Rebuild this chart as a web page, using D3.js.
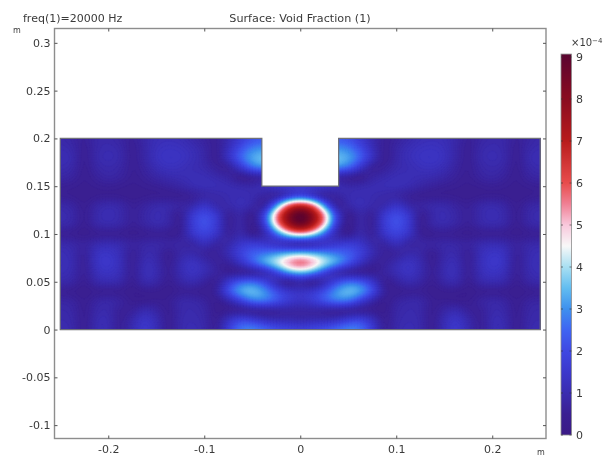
<!DOCTYPE html>
<html><head><meta charset="utf-8">
<script src="https://cdn.jsdelivr.net/npm/d3@7"></script>
<style>
html,body{margin:0;padding:0;background:#fff}
svg{display:block;filter:blur(.7px)}
text{font-family:"DejaVu Sans",sans-serif;fill:#3a3a3a}
</style></head><body>
<svg id="c" width="611" height="456"></svg>
<script>
const titleLeft = "freq(1)=20000 Hz";
const titleCenter = "Surface: Void Fraction (1)";
const xTicks = [-0.2,-0.1,0,0.1,0.2];
const yTicks = [-0.1,-0.05,0,0.05,0.1,0.15,0.2,0.25,0.3];
const barTicks = [0,1,2,3,4,5,6,7,8,9];
const colorValues = [0,0.5,1,1.5,2,2.5,3,3.5,4,4.5,5,5.5,6,7,8,9.07];
const colorStops = ["#3b1a86","#3a1f92","#3a2cb0","#3c38cc","#3f48e2","#3f64f2","#3e90ee","#62bdf0","#a8dff2","#f8f8f8","#f8c8dc","#f08094","#e84c4c","#b81c1c","#8a0c20","#5a0430"];
// domain outline (m)
const outlineX = [-0.25,0.25,0.25,0.04,0.04,-0.04,-0.04,-0.25];
const outlineY = [0,0,0.2,0.2,0.15,0.15,0.2,0.2];
// field: half width (x = 0 … 0.25, mirror symmetric), unit 1e-4
const colX = [0,.0125,.025,.0375,.05,.0625,.075,.0875,.1,.1125,.125,.1375,.15,.1625,.175,.1875,.2,.2125,.225,.2375,.25];
const rowY = [.20,.19,.18,.17,.16,.15,.14,.13,.12,.11,.10,.09,.08,.07,.06,.05,.04,.03,.02,.01,0];
const field = [
[2.3,2.3,2.3,2.3,2.1,1.6,1.0,0.6,0.7,0.9,1.1,1.15,1.1,0.9,0.6,0.8,0.9,0.9,0.6,0.8,0.9],
[3.0,3.0,3.0,3.0,2.8,2.1,1.2,0.55,0.85,1.1,1.25,1.3,1.2,0.85,0.55,0.9,1.0,0.9,0.55,0.9,1.0],
[3.7,3.7,3.7,3.6,3.3,2.5,1.4,0.5,0.9,1.15,1.35,1.4,1.25,0.85,0.55,0.95,1.05,0.95,0.5,1.0,1.1],
[3.2,3.2,3.2,3.1,2.7,1.6,0.6,0.65,0.95,1.05,1.2,1.25,1.1,0.75,0.55,0.85,0.95,0.85,0.5,0.9,1.0],
[1.0,1.0,1.0,0.7,0.55,0.4,0.8,0.95,1.1,1.1,1.05,1.0,0.85,0.65,0.55,0.75,0.85,0.7,0.5,0.75,0.85],
[1.7,1.7,1.6,1.2,0.95,1.0,1.05,1.1,1.15,1.05,0.85,0.7,0.6,0.55,0.5,0.55,0.6,0.55,0.5,0.55,0.6],
[1.7,1.2,0.55,0.75,1.0,1.05,1.0,0.9,0.8,0.6,0.5,0.5,0.5,0.5,0.45,0.5,0.5,0.5,0.45,0.5,0.55],
[6.7,5.8,3.0,0.6,0.95,1.15,0.95,0.9,1.5,0.9,0.8,0.95,0.95,0.75,0.6,0.9,1.0,0.85,0.5,0.8,0.9],
[9.3,8.0,5.4,1.9,0.4,0.95,0.55,1.65,2.1,1.65,0.5,0.9,1.05,0.85,0.6,0.95,1.05,0.95,0.5,0.9,1.0],
[8.7,7.5,5.0,1.6,0.4,0.95,0.55,1.7,2.2,1.7,0.5,0.9,1.0,0.8,0.6,0.9,1.0,0.9,0.5,0.85,0.95],
[4.9,4.2,2.5,0.9,0.45,1.0,0.6,1.5,1.9,1.5,0.55,0.5,0.55,0.5,0.45,0.5,0.5,0.5,0.45,0.5,0.55],
[0.6,0.8,1.2,1.5,1.7,1.5,0.9,0.75,1.3,0.75,0.85,0.8,0.9,0.85,0.75,1.0,1.1,1.0,0.7,0.9,0.95],
[3.5,3.3,3.0,2.7,2.4,1.9,1.1,0.65,0.65,0.95,0.85,0.5,0.9,0.95,0.55,1.15,1.4,1.3,0.6,1.0,1.1],
[6.1,5.5,4.3,3.4,2.4,1.4,0.7,0.65,1.05,1.35,1.05,0.5,1.0,1.1,0.55,1.2,1.5,1.35,0.55,1.05,1.15],
[3.6,3.1,1.9,0.9,0.5,0.45,0.5,0.75,1.1,1.35,1.05,0.55,1.05,1.15,0.55,1.15,1.35,1.2,0.55,1.0,1.1],
[0.8,0.4,1.0,2.0,2.6,2.4,1.6,0.5,0.75,1.05,0.85,0.5,0.9,1.0,0.5,0.95,1.05,0.95,0.5,0.85,0.95],
[1.4,1.6,2.2,3.1,3.6,3.3,2.2,0.7,0.5,0.55,0.55,0.45,0.5,0.5,0.45,0.5,0.5,0.5,0.45,0.5,0.55],
[1.4,1.7,2.3,2.8,2.7,1.8,0.9,0.45,0.75,0.9,0.9,0.55,0.55,0.5,0.5,0.75,0.9,0.8,0.5,0.75,0.8],
[0.75,0.75,0.65,0.5,0.5,0.45,0.5,0.45,0.85,0.95,0.9,0.5,0.85,1.05,0.65,0.6,0.95,0.9,0.5,0.85,0.9],
[0.95,1.05,1.1,1.3,1.8,2.0,1.35,0.5,0.9,1.0,0.95,0.5,1.1,1.45,0.95,0.55,1.05,1.0,0.5,0.9,0.95],
[1.9,2.1,2.3,2.7,3.0,2.8,1.8,0.55,0.95,1.05,0.95,0.5,1.15,1.55,1.05,0.55,1.05,1.05,0.5,0.95,1.0]
];

const svg = d3.select("#c");
const x = d3.scaleLinear([-0.256,0.256],[54.5,546]);
const y = d3.scaleLinear([-0.114,0.315],[438.5,28.5]);
const color = d3.scaleLinear(colorValues,colorStops).interpolate(d3.interpolateRgb).clamp(true);
const barY = d3.scaleLinear([0,9],[435,57]);

// mirror the half-field, refine with Catmull-Rom, then soften for smooth contours
const full = field.map(r => r.slice(1).reverse().concat(r));
const fullX = colX.slice(1).map(v=>-v).reverse().concat(colX);
const K = 4;
function refine(a){
  const o=[];
  const g=i=>a[Math.max(0,Math.min(a.length-1,i))];
  for(let i=0;i<a.length-1;i++) for(let k=0;k<K;k++){
    const t=k/K,p0=g(i-1),p1=g(i),p2=g(i+1),p3=g(i+2);
    o.push(.5*(2*p1+(p2-p0)*t+(2*p0-5*p1+4*p2-p3)*t*t+(3*p1-p0-3*p2+p3)*t*t*t));
  }
  o.push(a[a.length-1]);
  return o;
}
const hr = full.map(refine);
const W = hr[0].length;
const cols = d3.range(W).map(j => refine(hr.map(r=>r[j])));
const H = cols[0].length;
const vals = new Float64Array(W*H);
for(let j=0;j<W;j++) for(let i=0;i<H;i++) vals[i*W+j]=Math.max(0,cols[j][i]);
d3.blur2({data:vals,width:W,height:H},1);

const gx = d3.scaleLinear([0,W-1],[fullX[0],fullX[fullX.length-1]]);
const gy = d3.scaleLinear([0,H-1],[rowY[0],rowY[rowY.length-1]]);
const proj = d3.geoTransform({point(a,b){this.stream.point(x(gx(a-.5)),y(gy(b-.5)));}});
const path = d3.geoPath(proj);
const thresholds = d3.range(0.05,9.07,0.06);
const contours = d3.contours().size([W,H]).thresholds(thresholds)(vals);

const outline = d3.line().x(d=>x(d[0])).y(d=>y(d[1])).curve(d3.curveLinearClosed);
const pts = d3.zip(outlineX,outlineY);
svg.append("clipPath").attr("id","dom").append("path").attr("d",outline(pts));
const fg = svg.append("g").attr("clip-path","url(#dom)");
fg.append("path").attr("d",outline(pts)).attr("fill",color(0));
fg.selectAll("path.c").data(contours).join("path").attr("class","c")
  .attr("d",path).attr("fill",d=>color(d.value)).attr("stroke",d=>color(d.value)).attr("stroke-width",.3);
svg.append("path").attr("d",outline(pts)).attr("fill","none").attr("stroke","#6f7078").attr("stroke-width",1.2);

// frame & axes
const frameColor="#8d8d8d", tickColor="#555";
svg.append("rect").attr("x",54.5).attr("y",28.5).attr("width",491.5).attr("height",410)
  .attr("fill","none").attr("stroke",frameColor).attr("stroke-width",1.4);
const fmt = d => String(+d.toFixed(2));
function style(g){g.select(".domain").remove();g.selectAll("line").attr("stroke",tickColor);
  g.selectAll("text").attr("fill","#3a3a3a").attr("font-size",11).attr("font-family",'"DejaVu Sans",sans-serif');}
svg.append("g").attr("transform","translate(0,438.5)").call(d3.axisBottom(x).tickValues(xTicks).tickFormat(fmt).tickSizeInner(-3).tickSizeOuter(0).tickPadding(7)).call(style);
svg.append("g").attr("transform","translate(0,28.5)").call(d3.axisTop(x).tickValues(xTicks).tickFormat("").tickSizeInner(-3).tickSizeOuter(0)).call(style);
svg.append("g").attr("transform","translate(54.5,0)").call(d3.axisLeft(y).tickValues(yTicks).tickFormat(fmt).tickSizeInner(-3).tickSizeOuter(0).tickPadding(4)).call(style);
svg.append("g").attr("transform","translate(546,0)").call(d3.axisRight(y).tickValues(yTicks).tickFormat("").tickSizeInner(-3).tickSizeOuter(0)).call(style);

// titles
svg.append("text").attr("x",23).attr("y",22).attr("font-size",11).text(titleLeft);
svg.append("text").attr("x",300).attr("y",22).attr("text-anchor","middle").attr("font-size",11.2).text(titleCenter);
svg.append("text").attr("x",13).attr("y",33).attr("font-size",8).text("m");
svg.append("text").attr("x",537).attr("y",455).attr("font-size",8).text("m");

// colour bar
const defs = svg.append("defs");
const grad = defs.append("linearGradient").attr("id","cb").attr("x1",0).attr("x2",0).attr("y1",1).attr("y2",0);
grad.selectAll("stop").data(colorValues).join("stop")
  .attr("offset",d=>d/9.07).attr("stop-color",d=>color(d));
svg.append("rect").attr("x",561).attr("y",barY(9.07)).attr("width",10.5).attr("height",barY(0)-barY(9.07))
  .attr("fill","url(#cb)").attr("stroke","#8d8d8d").attr("stroke-width",.8);
const bt = svg.append("g");
bt.selectAll("line.l").data(barTicks).join("line").attr("class","l").attr("x1",561).attr("x2",563).attr("y1",d=>barY(d)).attr("y2",d=>barY(d)).attr("stroke","#333").attr("opacity",.6);
bt.selectAll("line.r").data(barTicks).join("line").attr("class","r").attr("x1",569.5).attr("x2",571.5).attr("y1",d=>barY(d)).attr("y2",d=>barY(d)).attr("stroke","#333").attr("opacity",.6);
bt.selectAll("text").data(barTicks).join("text").attr("x",576).attr("y",d=>barY(d)+4).attr("font-size",11).text(d=>d);
const e = svg.append("text").attr("x",571).attr("y",46).attr("font-size",10);
e.append("tspan").text("×10");
e.append("tspan").attr("dy",-3).attr("font-size",7).text("−4");
</script>
</body></html>
